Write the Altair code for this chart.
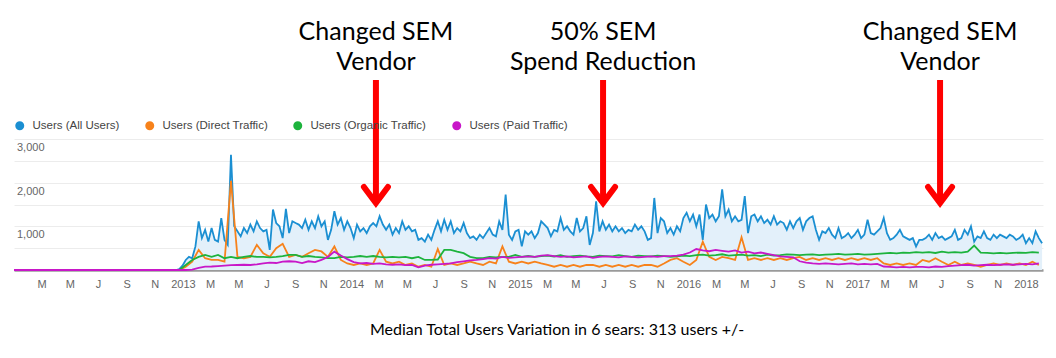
import altair as alt
import pandas as pd

# ---------------- data ----------------
SERIES = ["Users (All Users)", "Users (Direct Traffic)", "Users (Organic Traffic)", "Users (Paid Traffic)"]
COLORS = ["#1b8fd2", "#f7821b", "#1db33d", "#c817c8"]

FLAT_START = "2012-01-01"      # series are flat at zero from here
WEEK_START = "2012-12-03"      # first weekly sample
X_END = "2018-02-07"

# weekly samples (All Users)
all_users = [
    0, 0, 0, 20, 100, 230, 300, 270, 540, 1115, 730, 920, 650, 960, 690, 650, 1190, 690, 575, 2640,
    1000, 885, 770, 960, 845, 1040, 885, 1115, 960, 885, 920, 460, 1385, 1075, 1000, 730, 1400, 845, 1115,
    1075, 1040, 960, 1150, 920, 1115, 960, 1230, 1000, 1115, 690, 920, 1345, 1040, 1190, 920, 1115, 960, 730,
    1040, 885, 960, 845, 1000, 1075, 1000, 1230, 1040, 920, 1040, 810, 960, 845, 1115, 920, 1000, 885, 920, 690,
    730, 650, 810, 690, 920, 1115, 885, 1150, 920, 1115, 845, 960, 885, 1075, 845, 730, 770, 690, 810, 730,
    845, 960, 810, 770, 1115, 920, 1730, 810, 690, 885, 920, 540, 885, 810, 885, 730, 845, 1115, 1040,
    960, 770, 920, 885, 1190, 920, 1000, 885, 810, 1190, 885, 960, 1230, 575, 845, 1575, 885, 1115, 920,
    1040, 885, 1000, 885, 960, 845, 920, 885, 1040, 920, 1000, 885, 690, 730, 1650, 845, 1190, 1115, 845,
    960, 810, 1000, 885, 1190, 1310, 1115, 1270, 1000, 1270, 690, 1500, 1190, 1270, 1115, 1230, 1845, 1230, 1385,
    1115, 1230, 1115, 1150, 1690, 845, 1230, 1270, 1115, 1230, 1075, 1150, 1040, 1230, 1040, 1115, 1075, 920, 1115, 960,
    1115, 1190, 920, 1115, 1190, 1230, 920, 690, 885, 845, 960, 810, 730, 960, 730, 770, 845, 730, 810,
    920, 730, 810, 1150, 845, 810, 885, 960, 1190, 845, 690, 730, 810, 920, 770, 730, 690, 730, 540, 690,
    690, 730, 810, 690, 845, 730, 770, 690, 730, 770, 920, 690, 730, 920, 810, 1000, 650, 770, 730,
    885, 730, 690, 810, 730, 810, 770, 730, 810, 770, 690, 730, 810, 615, 730, 615, 885, 730, 615,
]

# two-weekly samples (every other week, starting with the 2nd week)
direct = [
    0, 0, 75, 190, 460, 270, 230, 230, 190, 2040, 300, 270, 300, 575, 385, 300, 500, 600, 300,
    345, 300, 385, 460, 425, 300, 540, 230, 150, 115, 150, 115, 150, 460, 190, 150, 190, 115, 150, 75,
    115, 75, 480, 115, 150, 115, 150, 190, 150, 115, 190, 150, 540, 190, 150, 190, 150, 190, 150,
    115, 75, 115, 75, 115, 75, 115, 115, 75, 115, 75, 115, 75, 115, 75, 115, 115, 75, 150,
    230, 270, 190, 115, 230, 650, 300, 230, 300, 270, 230, 750, 230, 270, 230, 270, 230, 270, 230, 270,
    300, 230, 270, 230, 270, 230, 270, 230, 270, 230, 270, 230, 270, 150, 115, 150, 115, 150, 115,
    230, 190, 270, 190, 115, 190, 115, 150, 115, 75, 115, 150, 115, 150, 115, 150, 115, 190, 115,
]
organic = [
    0, 0, 115, 230, 300, 345, 300, 345, 270, 300, 270, 300, 320, 300, 300, 290, 300, 320, 345,
    345, 300, 320, 300, 290, 270, 270, 300, 290, 300, 320, 300, 320, 300, 290, 300, 290, 300, 270, 300,
    230, 230, 240, 460, 460, 420, 385, 300, 270, 270, 300, 290, 300, 300, 345, 300, 320, 300, 320,
    330, 310, 340, 300, 320, 330, 310, 300, 330, 320, 310, 340, 320, 300, 330, 320, 310, 330, 320,
    300, 310, 330, 320, 340, 350, 330, 340, 360, 330, 340, 350, 330, 340, 320, 350, 330, 340, 360, 350,
    340, 350, 360, 340, 350, 360, 370, 350, 360, 370, 350, 360, 370, 380, 390, 380, 400, 390, 410,
    400, 410, 390, 420, 400, 410, 400, 420, 560, 400, 390, 380, 390, 380, 390, 400, 390, 410, 400,
]
paid = [
    0, 0, 0, 10, 50, 75, 80, 90, 100, 110, 115, 120, 115, 130, 150, 170, 160, 190, 200,
    190, 160, 200, 180, 230, 300, 420, 330, 250, 180, 150, 160, 140, 150, 130, 120, 130, 110, 115, 60,
    100, 120, 130, 140, 150, 180, 200, 220, 230, 250, 270, 260, 300, 280, 290, 300, 310, 300, 330,
    340, 320, 300, 310, 290, 300, 310, 280, 300, 310, 300, 290, 310, 300, 290, 300, 310, 300, 320,
    320, 330, 350, 400, 480, 450, 430, 460, 440, 420, 450, 400, 420, 380, 400, 370, 340, 310, 300, 290,
    200, 170, 150, 140, 150, 140, 130, 140, 150, 130, 140, 130, 140, 80, 70, 60, 70, 60, 70,
    70, 60, 80, 70, 90, 100, 110, 120, 100, 110, 120, 110, 120, 130, 120, 130, 140, 130, 150,
]

Y_TICKS = [1000, 2000, 3000]
Y_TICK_LABELS = ["1,000", "2,000", "3,000"]

ANN_DATES = ["2014-02-23", "2015-06-30", "2017-06-29"]
ANN_LABELS = ["Changed SEM\nVendor", "50% SEM\nSpend Reduction", "Changed SEM\nVendor"]
FOOTNOTE = "Median Total Users Variation in 6 sears: 313 users +/-"

# ---------------- tables ----------------
weeks = pd.date_range(WEEK_START, periods=len(all_users), freq="7D")
biweeks = weeks[1::2]

rows = []
for name, vals, dts in [
    (SERIES[0], all_users, weeks),
    (SERIES[1], direct, biweeks),
    (SERIES[2], organic, biweeks),
    (SERIES[3], paid, biweeks),
]:
    rows.append({"date": FLAT_START, "value": 0, "series": name})
    for d, v in zip(dts, vals):
        rows.append({"date": d.strftime("%Y-%m-%d"), "value": v, "series": name})
df = pd.DataFrame(rows)


def ms(s):
    return int(pd.Timestamp(s, tz="UTC").value // 10**6)


tick_vals = [ms(t) for t in pd.date_range("2012-03-01", "2018-01-01", freq="2MS")]

FONT = "Liberation Sans, Arial, sans-serif"
CAL = "Lato, sans-serif"

x_scale = alt.Scale(type="utc", domain=[ms(FLAT_START), ms(X_END)])
x_axis = alt.Axis(
    values=tick_vals,
    labelExpr="utcmonth(datum.value)==0 ? utcFormat(datum.value,'%Y') : substring(utcFormat(datum.value,'%b'),0,1)",
    title=None, grid=False, ticks=False, domainColor="#9a9a9a", domainWidth=2.5,
    labelColor="#666666", labelFontSize=11, labelFont=FONT, labelPadding=8,
    labelOverlap=False, labelFlush=False, labelBound=False,
)
x_enc = alt.X("date:T", scale=x_scale, axis=x_axis)
y_scale = alt.Scale(domain=[0, 3000], nice=False)
y_axis = alt.Axis(values=list(range(0, 3001, 500)), labels=False, ticks=False, domain=False,
                  gridColor="#ececec", title=None)
y_enc = alt.Y("value:Q", scale=y_scale, axis=y_axis)
color_scale = alt.Scale(domain=SERIES, range=COLORS)

base = alt.Chart(df)

area = base.transform_filter(alt.datum.series == SERIES[0]).mark_area(
    color="#e3f0fa", opacity=1
).encode(x=x_enc, y=y_enc)

lines = base.mark_line(strokeWidth=1.8).encode(
    x=x_enc, y=y_enc,
    color=alt.Color(
        "series:N", scale=color_scale,
        legend=alt.Legend(
            orient="none", legendX=0, legendY=-19, direction="horizontal", title=None,
            symbolType="circle", symbolSize=20, symbolStrokeWidth=4.5, symbolOpacity=1,
            labelFontSize=11.5, labelFont=FONT, labelColor="#444444",
            columnPadding=18, labelOffset=7, padding=0,
        ),
    ),
)

ylab_df = pd.DataFrame({"value": Y_TICKS, "t": Y_TICK_LABELS})
ylabels = alt.Chart(ylab_df).mark_text(
    align="left", baseline="top", dy=3, fontSize=11, font=FONT, color="#666666"
).encode(y=y_enc, x=alt.value(3), text="t:N")

ann_df = pd.DataFrame({"date": ANN_DATES, "label": ANN_LABELS})
ann_text = alt.Chart(ann_df).mark_text(
    lineBreak="\n", fontSize=25, font=CAL, color="#000000", baseline="middle", lineHeight=30
).encode(x=x_enc, y=alt.value(-107), text="label:N")
ann_shaft = alt.Chart(ann_df).mark_rule(color="#ff0000", strokeWidth=6).encode(
    x=x_enc, y=alt.value(-59), y2=alt.value(64)
)
ann_head = alt.Chart(ann_df).mark_point(
    shape="M-1.5,-1L0,1L1.5,-1", size=256, filled=False, stroke="#ff0000",
    strokeWidth=6, strokeCap="round", strokeJoin="miter", opacity=1
).encode(x=x_enc, y=alt.value(56))

foot = alt.Chart(pd.DataFrame({"t": [FOOTNOTE]})).mark_text(
    fontSize=16, font=CAL, color="#000000", baseline="middle", align="center"
).encode(x=alt.value(543), y=alt.value(191), text="t:N")

chart = alt.layer(area, lines, ylabels, ann_shaft, ann_head, ann_text, foot).properties(
    width=1029, height=131,
    padding={"left": 6, "top": 131, "right": 4, "bottom": 70},
    autosize=alt.AutoSizeParams(type="none"),
).configure(background="white").configure_view(stroke="transparent", strokeWidth=0)

chart.save("out.html", embed_options={"renderer": "svg", "actions": False})
